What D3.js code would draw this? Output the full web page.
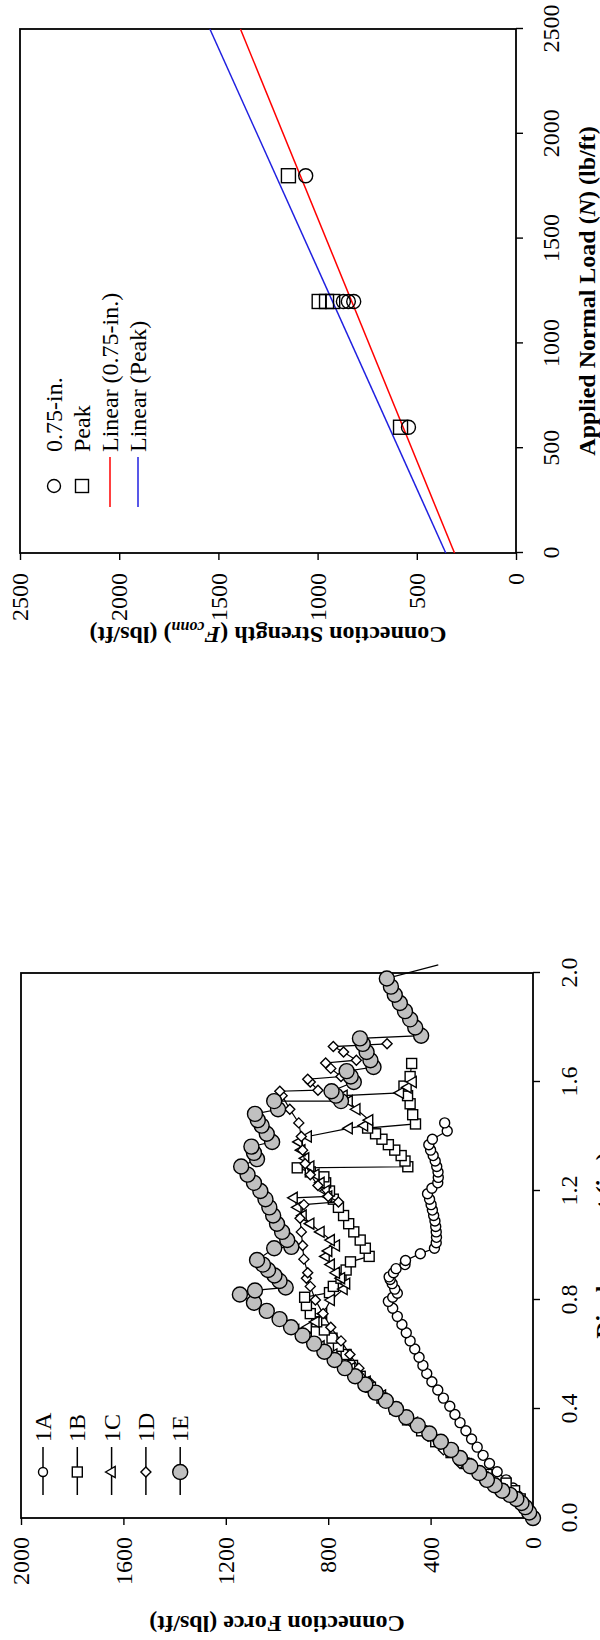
<!DOCTYPE html>
<html>
<head>
<meta charset="utf-8">
<script src="https://cdnjs.cloudflare.com/ajax/libs/d3/7.8.5/d3.min.js"></script>
<style>
  body { margin: 0; background: #fff; }
  svg text { font-family: "Liberation Serif", "Times New Roman", serif; fill: #000; }
</style>
</head>
<body>
<svg id="chart" width="600" height="1640"></svg>
<script>
// ---- top chart data ----
const normalLoad = [600, 1200, 1200, 1200, 1800];
const strength075 = [542, 870, 845, 818, 1060];
const strengthPeak = [582, 992, 955, 924, 1147];
const fit075 = [[0, 310], [2500, 1389]];
const fitPeak = [[0, 354], [2500, 1543]];
const loadTicks = [0, 500, 1000, 1500, 2000, 2500];
const strengthTicks = [0, 500, 1000, 1500, 2000, 2500];
const topLegend = ["0.75-in.", "Peak", "Linear (0.75-in.)", "Linear (Peak)"];

// ---- bottom chart data (displacement in., force lbs/ft) ----
const test1A = [[0,0],[0.01,10],[0.03,25],[0.05,38],[0.08,58],[0.11,78],[0.14,105],[0.17,140],[0.2,170],[0.23,195],[0.26,218],[0.29,240],[0.32,262],[0.35,285],[0.38,305],[0.41,325],[0.44,350],[0.47,372],[0.5,395],[0.53,415],[0.56,430],[0.59,445],[0.62,462],[0.65,480],[0.68,495],[0.71,512],[0.74,530],[0.77,548],[0.795,565],[0.81,548],[0.825,530],[0.84,540],[0.86,550],[0.875,558],[0.885,562],[0.9,545],[0.915,535],[0.93,500],[0.945,498],[0.97,440],[0.99,385],[1.01,378],[1.03,377],[1.05,378],[1.07,380],[1.09,383],[1.11,388],[1.13,393],[1.15,398],[1.17,404],[1.19,412],[1.21,395],[1.23,372],[1.25,370],[1.27,371],[1.29,376],[1.31,382],[1.33,390],[1.35,400],[1.37,407],[1.39,393],[1.42,335],[1.45,345]];
const test1B = [[0,0],[0.04,30],[0.07,50],[0.1,72],[0.128,105],[0.16,180],[0.2,260],[0.24,320],[0.28,380],[0.32,435],[0.36,490],[0.4,540],[0.44,590],[0.48,635],[0.52,675],[0.56,705],[0.6,730],[0.63,760],[0.66,785],[0.69,815],[0.72,845],[0.75,870],[0.78,885],[0.81,892],[0.827,795],[0.85,780],[0.88,750],[0.91,730],[0.94,713],[0.96,640],[0.99,655],[1.02,675],[1.05,700],[1.08,720],[1.11,740],[1.14,760],[1.17,780],[1.2,795],[1.23,810],[1.252,817],[1.27,870],[1.285,921],[1.289,489],[1.31,500],[1.33,515],[1.35,540],[1.37,565],[1.39,590],[1.41,615],[1.431,646],[1.446,459],[1.48,470],[1.52,480],[1.55,490],[1.585,504],[1.62,480],[1.668,474]];
const test1C = [[0,0],[0.05,45],[0.1,115],[0.15,190],[0.2,265],[0.25,335],[0.3,400],[0.35,465],[0.4,530],[0.45,590],[0.5,650],[0.55,710],[0.6,780],[0.63,830],[0.66,880],[0.69,929],[0.7,880],[0.72,850],[0.75,820],[0.8,790],[0.84,740],[0.86,730],[0.88,750],[0.9,770],[0.93,790],[0.96,810],[0.98,800],[1.0,770],[1.02,790],[1.05,830],[1.08,870],[1.11,900],[1.14,920],[1.175,935],[1.18,800],[1.2,810],[1.23,830],[1.26,850],[1.29,870],[1.32,890],[1.35,905],[1.38,915],[1.4,880],[1.43,720],[1.44,660],[1.46,640],[1.5,690],[1.53,720],[1.55,740],[1.56,520],[1.58,490],[1.6,470]];
const test1D = [[0,0],[0.05,50],[0.1,120],[0.15,200],[0.2,285],[0.25,350],[0.3,410],[0.35,475],[0.4,535],[0.45,590],[0.5,640],[0.55,680],[0.6,715],[0.65,750],[0.7,790],[0.75,820],[0.8,850],[0.85,870],[0.88,885],[0.9,880],[0.95,895],[1.0,900],[1.05,905],[1.1,910],[1.15,895],[1.16,760],[1.18,800],[1.22,840],[1.26,870],[1.3,890],[1.35,900],[1.4,905],[1.45,915],[1.5,950],[1.55,980],[1.566,989],[1.57,840],[1.6,870],[1.61,880],[1.62,750],[1.65,790],[1.67,810],[1.68,690],[1.71,740],[1.73,780],[1.74,570]];
const test1E = [[0,0],[0.02,15],[0.04,30],[0.055,45],[0.07,65],[0.085,90],[0.1,120],[0.12,150],[0.14,180],[0.165,210],[0.19,245],[0.22,285],[0.25,320],[0.28,360],[0.31,405],[0.34,450],[0.37,495],[0.4,535],[0.43,575],[0.46,615],[0.49,655],[0.52,695],[0.55,735],[0.58,775],[0.61,815],[0.64,855],[0.67,900],[0.7,945],[0.73,990],[0.76,1040],[0.79,1090],[0.82,1145],[0.835,1086],[0.846,966],[0.87,990],[0.89,1010],[0.91,1035],[0.93,1055],[0.947,1078],[0.99,1011],[0.995,944],[1.02,960],[1.05,980],[1.08,1000],[1.11,1015],[1.14,1030],[1.17,1045],[1.2,1065],[1.23,1090],[1.26,1115],[1.29,1140],[1.317,1078],[1.34,1090],[1.363,1100],[1.38,1019],[1.41,1040],[1.44,1060],[1.46,1075],[1.483,1086],[1.5,996],[1.53,1011],[1.53,750],[1.55,770],[1.566,787],[1.6,700],[1.62,712],[1.64,728],[1.655,623],[1.68,635],[1.71,650],[1.74,665],[1.76,676],[1.77,437],[1.8,460],[1.83,480],[1.86,500],[1.89,520],[1.92,540],[1.95,555],[1.98,571],[2.03,370]];
const dispTicks = [0, 0.4, 0.8, 1.2, 1.6, 2.0];
const forceTicks = [0, 400, 800, 1200, 1600, 2000];
const testNames = ["1A", "1B", "1C", "1D", "1E"];

const svg = d3.select("#chart");
svg.append("rect").attr("width", 600).attr("height", 1640).attr("fill", "#fff");

// marker drawing, shapes are drawn in the un-rotated chart frame
function drawMarker(g, shape, x, y, s, fill) {
    let m;
    if (shape == "circle") {
        m = g.append("circle").attr("cx", x).attr("cy", y).attr("r", s);
    } else if (shape == "square") {
        m = g.append("rect").attr("x", x - s).attr("y", y - s).attr("width", 2*s).attr("height", 2*s);
    } else if (shape == "triangle") {
        m = g.append("path").attr("d", "M" + x + "," + (y - s*1.1) + "L" + (x + s) + "," + (y + s*0.65) + "L" + (x - s) + "," + (y + s*0.65) + "Z");
    } else {
        m = g.append("path").attr("d", "M" + x + "," + (y - s) + "L" + (x + s) + "," + y + "L" + x + "," + (y + s) + "L" + (x - s) + "," + y + "Z");
    }
    m.attr("fill", fill).attr("stroke", "#000").attr("stroke-width", 1.4);
}

// =============== TOP CHART ===============
// plot area on screen: x 20..516, y 29..553, drawn rotated -90deg
const tW = 524, tH = 496;
const topG = svg.append("g").attr("transform", "translate(20,553) rotate(-90)");

const xLoad = d3.scaleLinear().domain([0, 2500]).range([0, tW]);
const yStr = d3.scaleLinear().domain([0, 2500]).range([tH, 0]);

topG.append("g")
    .attr("transform", "translate(0," + tH + ")")
    .call(d3.axisBottom(xLoad).tickValues(loadTicks).tickFormat(d3.format("d")).tickSize(7).tickSizeOuter(0).tickPadding(19))
    .call(g => g.select(".domain").remove());
topG.append("g")
    .call(d3.axisLeft(yStr).tickValues(strengthTicks).tickFormat(d3.format("d")).tickSize(7).tickSizeOuter(0).tickPadding(13))
    .call(g => g.select(".domain").remove());
topG.selectAll(".tick line").attr("stroke", "#000").attr("stroke-width", 1.4);
topG.selectAll(".tick text").style("font-size", "24px");

topG.append("rect").attr("width", tW).attr("height", tH)
    .attr("fill", "none").attr("stroke", "#000").attr("stroke-width", 1.8);

let lineFn = d3.line().x(d => xLoad(d[0])).y(d => yStr(d[1]));
topG.append("path").attr("d", lineFn(fit075)).attr("fill", "none").attr("stroke", "#ff0000").attr("stroke-width", 1.5);
topG.append("path").attr("d", lineFn(fitPeak)).attr("fill", "none").attr("stroke", "#2020e0").attr("stroke-width", 1.5);

normalLoad.forEach(function(n, i) {
    drawMarker(topG, "square", xLoad(n), yStr(strengthPeak[i]), 7, "none");
    drawMarker(topG, "circle", xLoad(n), yStr(strength075[i]), 7, "none");
});

// legend
let tl = topG.append("g").attr("transform", "translate(67,34)");
topLegend.forEach(function(name, i) {
    let y = i * 28;
    if (i == 0) drawMarker(tl, "circle", 0, y, 6.5, "none");
    if (i == 1) drawMarker(tl, "square", 0, y, 6.5, "none");
    if (i == 2) tl.append("line").attr("x1", -21).attr("x2", 29).attr("y1", y).attr("y2", y).attr("stroke", "#ff0000").attr("stroke-width", 1.5);
    if (i == 3) tl.append("line").attr("x1", -21).attr("x2", 29).attr("y1", y).attr("y2", y).attr("stroke", "#2020e0").attr("stroke-width", 1.5);
    tl.append("text").attr("x", 34).attr("y", y).attr("dy", "0.34em").style("font-size", "24px").text(name);
});

// axis titles
topG.append("text")
    .attr("x", tW / 2).attr("y", tH + 79)
    .attr("text-anchor", "middle").style("font-size", "24px").style("font-weight", "bold")
    .call(t => {
        t.append("tspan").text("Applied Normal Load (");
        t.append("tspan").style("font-style", "italic").text("N");
        t.append("tspan").text(") (lb/ft)");
    });
topG.append("text")
    .attr("transform", "translate(-74," + (tH / 2) + ") rotate(-90)")
    .attr("text-anchor", "middle").style("font-size", "24px").style("font-weight", "bold")
    .call(t => {
        t.append("tspan").text("Connection Strength (");
        t.append("tspan").style("font-style", "italic").text("F");
        t.append("tspan").style("font-style", "italic").style("font-size", "16px").attr("dy", 5).text("conn");
        t.append("tspan").attr("dy", -5).text(") (lbs/ft)");
    });

// =============== BOTTOM CHART ===============
// plot area on screen: x 21..533, y 973..1518
const bW = 545, bH = 512;
const botG = svg.append("g").attr("transform", "translate(21,1518) rotate(-90)");

const xDisp = d3.scaleLinear().domain([0, 2.0]).range([0, bW]);
const yForce = d3.scaleLinear().domain([0, 2000]).range([bH, 0]);

botG.append("g")
    .attr("transform", "translate(0," + bH + ")")
    .call(d3.axisBottom(xDisp).tickValues(dispTicks).tickFormat(d3.format(".1f")).tickSize(7).tickSizeOuter(0).tickPadding(20))
    .call(g => g.select(".domain").remove());
botG.append("g")
    .call(d3.axisLeft(yForce).tickValues(forceTicks).tickFormat(d3.format("d")).tickSize(7).tickSizeOuter(0).tickPadding(12))
    .call(g => g.select(".domain").remove());
botG.selectAll(".tick line").attr("stroke", "#000").attr("stroke-width", 1.4);
botG.selectAll(".tick text").style("font-size", "24px");

botG.append("rect").attr("width", bW).attr("height", bH)
    .attr("fill", "none").attr("stroke", "#000").attr("stroke-width", 1.8);

const series = [
    { name: "1A", data: test1A, shape: "circle", size: 5, fill: "#fff" },
    { name: "1B", data: test1B, shape: "square", size: 5, fill: "#fff" },
    { name: "1C", data: test1C, shape: "triangle", size: 5.5, fill: "#fff" },
    { name: "1D", data: test1D, shape: "diamond", size: 5, fill: "#fff" },
    { name: "1E", data: test1E, shape: "circle", size: 7.5, fill: "#c0c0c0" }
];

let dLine = d3.line().x(d => xDisp(d[0])).y(d => yForce(d[1]));
series.forEach(function(s) {
    let g = botG.append("g");
    g.append("path").attr("d", dLine(s.data)).attr("fill", "none").attr("stroke", "#000").attr("stroke-width", 1.2);
    s.data.forEach(function(d) {
        if (d[0] <= 2.0) drawMarker(g, s.shape, xDisp(d[0]), yForce(d[1]), s.size, s.fill);
    });
});

// legend
let bl = botG.append("g").attr("transform", "translate(46,22)");
series.forEach(function(s, i) {
    let y = i * 34.3;
    bl.append("line").attr("x1", -23).attr("x2", 25).attr("y1", y).attr("y2", y).attr("stroke", "#000").attr("stroke-width", 1.5);
    drawMarker(bl, s.shape, 0, y, s.name == "1A" ? 4.5 : s.size, s.fill);
    bl.append("text").attr("x", 30).attr("y", y).attr("dy", "0.34em").style("font-size", "24px").text(testNames[i]);
});

// x title sits at the page edge, as in the source figure
botG.append("text")
    .attr("x", bW / 2).attr("y", bH + 79)
    .attr("text-anchor", "middle").style("font-size", "24px").style("font-weight", "bold")
    .text("Displacement (in.)");
botG.append("text")
    .attr("transform", "translate(-98," + (bH / 2) + ") rotate(-90)")
    .attr("text-anchor", "middle").style("font-size", "24px").style("font-weight", "bold")
    .text("Connection Force (lbs/ft)");
</script>
</body>
</html>
